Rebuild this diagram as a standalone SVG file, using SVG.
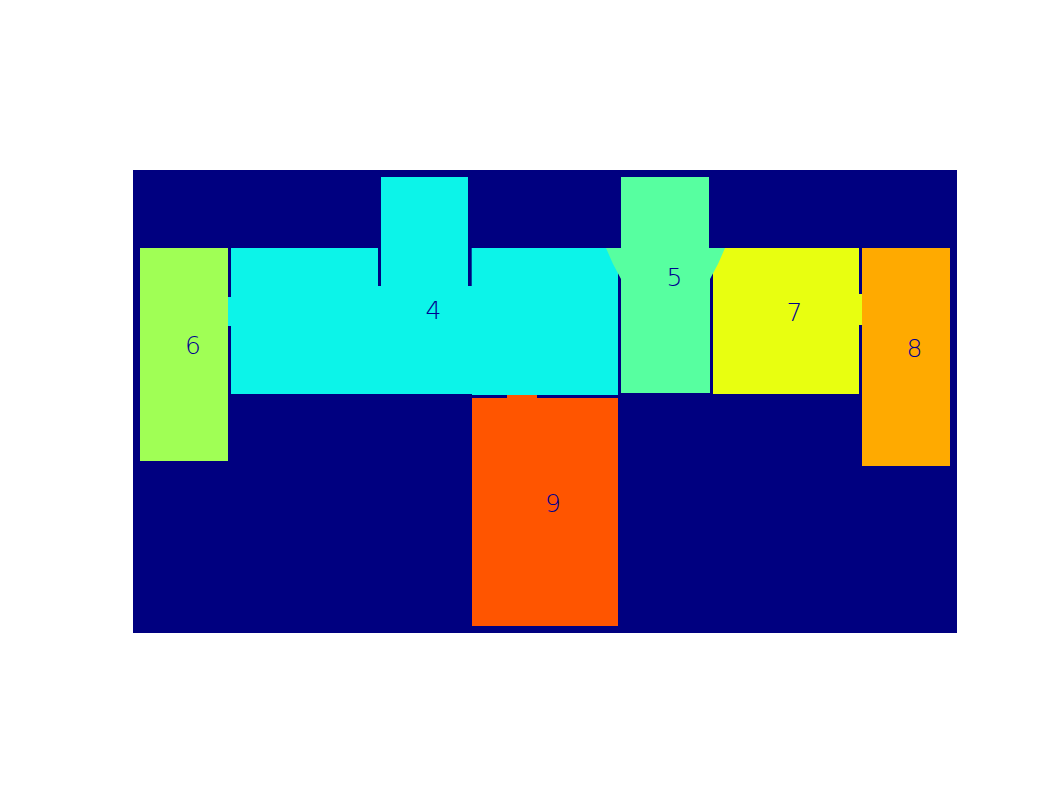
<svg xmlns="http://www.w3.org/2000/svg" width="1062" height="796" viewBox="0 0 1062 796">
<style>
.lbl{font-family:"DejaVu Sans","Liberation Sans",sans-serif;font-weight:200;font-size:25px;fill:#000090;text-anchor:middle}
.wall{fill:#000080}
</style>
<rect width="1062" height="796" fill="#ffffff"/>
<rect id="background" x="133" y="170" width="824" height="463" fill="#000080"/>
<g id="room4" fill="#0CF4E9">
  <rect x="231" y="248" width="241" height="146"/>
  <rect x="472" y="248" width="146" height="147"/>
  <rect x="381" y="177" width="87" height="71"/>
  <rect x="228" y="297" width="3" height="29"/>
  <rect class="wall" x="378" y="248" width="3" height="38"/>
  <rect class="wall" x="468" y="245" width="3.7" height="41"/>
  <text class="lbl" x="433.5" y="319">4</text>
</g>
<g id="room7" fill="#E8FF10">
  <rect x="713" y="248" width="146" height="146"/>
  <rect x="859" y="294" width="3" height="31"/>
  <text class="lbl" x="794.5" y="321">7</text>
</g>
<g id="room5" fill="#57FFA0">
  <polygon points="621,177 709,177 709,248 725,248 718,264 710,279 710,393 621,393 621,279 613,264 606,248 621,248"/>
  <text class="lbl" x="674.5" y="286">5</text>
</g>
<g id="room6" fill="#A0FF55">
  <rect x="140" y="248" width="88" height="213"/>
  <text class="lbl" x="193" y="354">6</text>
</g>
<g id="room8" fill="#FFAA00">
  <rect x="862" y="248" width="88" height="218"/>
  <text class="lbl" x="914.5" y="357">8</text>
</g>
<g id="room9" fill="#FF5500">
  <rect x="472" y="398" width="146" height="228"/>
  <rect x="507" y="395" width="30" height="3"/>
  <text class="lbl" x="553" y="512">9</text>
</g>
</svg>
